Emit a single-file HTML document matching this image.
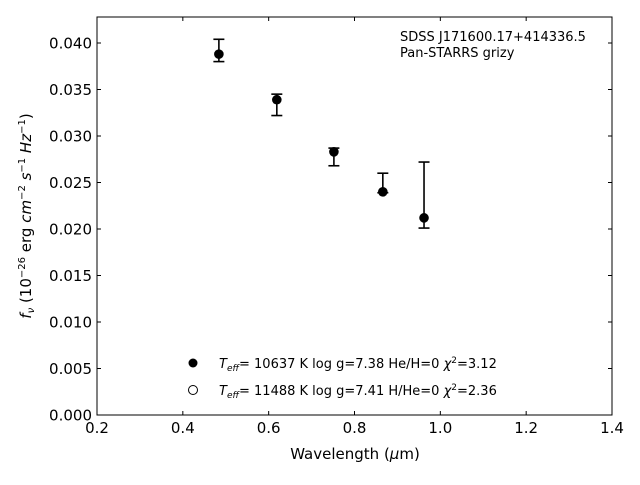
<!DOCTYPE html>
<html><head><meta charset="utf-8"><style>
body{margin:0;background:#fff;font-family:"Liberation Sans","DejaVu Sans",sans-serif}
text{font-family:"DejaVu Sans","Liberation Sans",sans-serif}
</style></head><body>
<svg id="chart" width="640" height="480" xmlns="http://www.w3.org/2000/svg">
<rect x="97" y="17" width="515" height="398" fill="#fff" stroke="#000" stroke-width="1"/>
<g id="axes"></g>
<g id="marks"></g>
<text x="400" y="41" font-size="13">SDSS J171600.17+414336.5</text>
<text x="400" y="57" font-size="13">Pan-STARRS grizy</text>
<circle cx="193" cy="363" r="4.5" fill="#000"/>
<text x="219" y="368" font-size="13"><tspan font-style="italic">T</tspan><tspan font-style="italic" font-size="9" dy="3">eff</tspan><tspan dy="-3">= 10637 K  log g=7.38  He/H=0  </tspan><tspan font-style="italic">χ</tspan><tspan font-size="9" dy="-5">2</tspan><tspan dy="5">=3.12</tspan></text>
<circle cx="193" cy="390" r="4.5" fill="#fff" stroke="#000"/>
<text x="219" y="395" font-size="13"><tspan font-style="italic">T</tspan><tspan font-style="italic" font-size="9" dy="3">eff</tspan><tspan dy="-3">= 11488 K  log g=7.41  H/He=0  </tspan><tspan font-style="italic">χ</tspan><tspan font-size="9" dy="-5">2</tspan><tspan dy="5">=2.36</tspan></text>
<text x="355" y="459" font-size="15" text-anchor="middle">Wavelength (<tspan font-style="italic">μ</tspan>m)</text>
<text transform="translate(31,216) rotate(-90)" font-size="15" text-anchor="middle"><tspan font-style="italic">f</tspan><tspan font-style="italic" font-size="10" dy="3">ν</tspan><tspan dy="-3"> (10</tspan><tspan font-size="10" dy="-6">−26</tspan><tspan dy="6"> erg </tspan><tspan font-style="italic">cm</tspan><tspan font-size="10" dy="-6">−2</tspan><tspan dy="6" font-style="italic"> s</tspan><tspan font-size="10" dy="-6">−1</tspan><tspan dy="6" font-style="italic"> Hz</tspan><tspan font-size="10" dy="-6">−1</tspan><tspan dy="6">)</tspan></text>
</svg>
<script>
const wavelengths=[0.484,0.619,0.752,0.866,0.962];
const modelFlux=[0.0388,0.0339,0.0283,0.0240,0.0212];
const errLow=[0.0380,0.0322,0.0268,0.0239,0.0201];
const errHigh=[0.0404,0.0345,0.0287,0.0260,0.0272];
const xTicks=[0.2,0.4,0.6,0.8,1.0,1.2,1.4];
const xTickLabels=["0.2","0.4","0.6","0.8","1.0","1.2","1.4"];
const yTicks=[0,0.005,0.01,0.015,0.02,0.025,0.03,0.035,0.04];
const yTickLabels=["0.000","0.005","0.010","0.015","0.020","0.025","0.030","0.035","0.040"];
const NS="http://www.w3.org/2000/svg";
const X0=97,X1=612,Y0=415,Y1=17;
function sx(v){return X0+(v-0.2)/1.2*(X1-X0);}
function sy(v){return Y0-v*9300;}
function mk(tag,attrs,parent){const e=document.createElementNS(NS,tag);for(const k in attrs)e.setAttribute(k,attrs[k]);parent.appendChild(e);return e;}
const axes=document.getElementById('axes'),marks=document.getElementById('marks');
xTicks.forEach((t,i)=>{const x=sx(t);
 let a=mk('line',{x1:x,x2:x,y1:Y0,y2:Y0-4,stroke:'#000'},axes);
 
 
 let b=mk('line',{x1:x,x2:x,y1:Y1,y2:Y1+4,stroke:'#000'},axes);
 
 
 let l=mk('text',{x:x,y:433,'font-size':15,'text-anchor':'middle'},axes);l.textContent=xTickLabels[i];
 
 });
yTicks.forEach((t,i)=>{const y=sy(t);
 let a=mk('line',{x1:X0,x2:X0+4,y1:y,y2:y,stroke:'#000'},axes);
 
 
 let b=mk('line',{x1:X1,x2:X1-4,y1:y,y2:y,stroke:'#000'},axes);
 
 
 let l=mk('text',{x:92,y:y+5.5,'font-size':15,'text-anchor':'end'},axes);l.textContent=yTickLabels[i];
 
 });
wavelengths.forEach((w,i)=>{const x=sx(w);
 const g=mk('g',{},marks);
 
 
 mk('line',{x1:x,x2:x,y1:sy(errLow[i]),y2:sy(errHigh[i]),stroke:'#000','stroke-width':1.6},g);
 mk('line',{x1:x-5.5,x2:x+5.5,y1:sy(errLow[i]),y2:sy(errLow[i]),stroke:'#000','stroke-width':1.6},g);
 mk('line',{x1:x-5.5,x2:x+5.5,y1:sy(errHigh[i]),y2:sy(errHigh[i]),stroke:'#000','stroke-width':1.6},g);
 const c=mk('circle',{cx:x,cy:sy(modelFlux[i]),r:4.8,fill:'#000'},marks);
 
 });
</script>
</body></html>
